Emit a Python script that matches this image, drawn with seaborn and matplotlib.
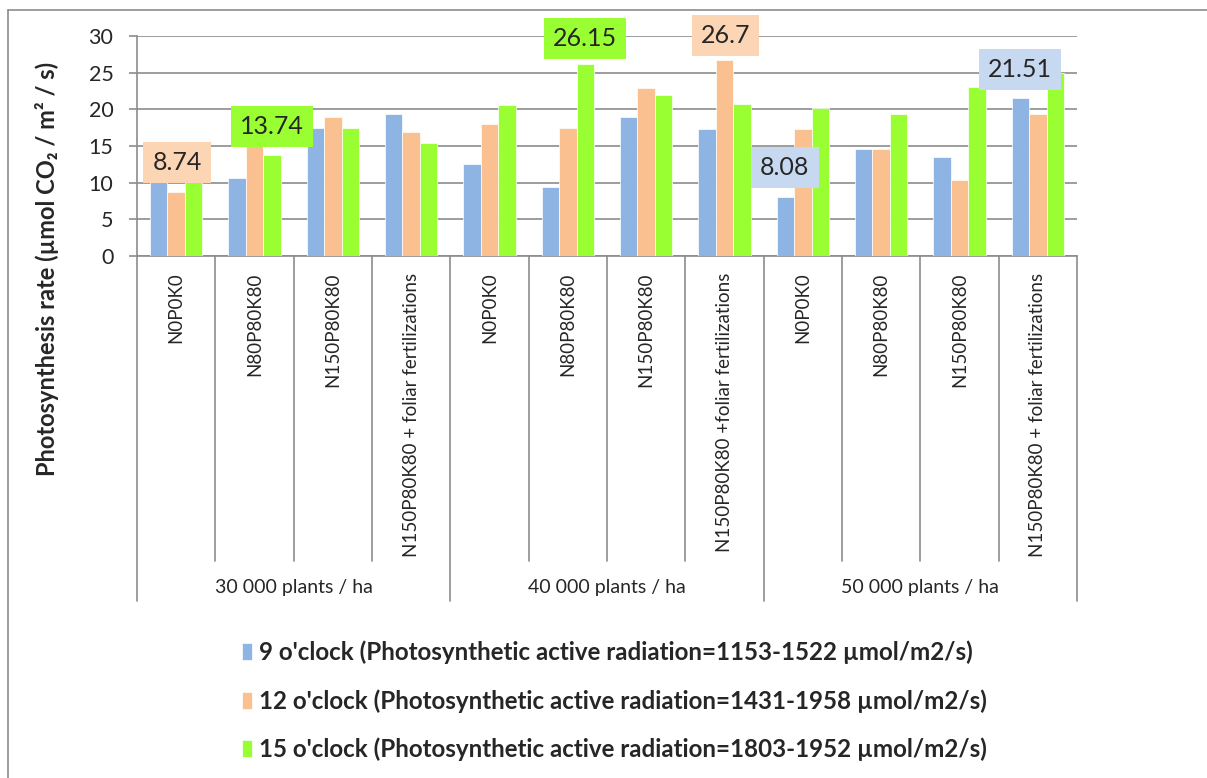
import numpy as np
import pandas as pd
import matplotlib
matplotlib.use("Agg")
import matplotlib.pyplot as plt
import matplotlib.transforms as mtransforms
from matplotlib.lines import Line2D
import seaborn as sns

# ---------------- data ----------------
categories = ["N0P0K0", "N80P80K80", "N150P80K80", "N150P80K80 + foliar fertilizations",
              "N0P0K0", "N80P80K80", "N150P80K80", "N150P80K80 +foliar fertilizations",
              "N0P0K0", "N80P80K80", "N150P80K80", "N150P80K80 + foliar fertilizations"]
groups = ["30 000 plants / ha", "40 000 plants / ha", "50 000 plants / ha"]
series_names = ["9 o'clock (Photosynthetic active radiation=1153-1522 µmol/m2/s)",
                "12 o'clock (Photosynthetic active radiation=1431-1958 µmol/m2/s)",
                "15 o'clock (Photosynthetic active radiation=1803-1952 µmol/m2/s)"]
t9 = [10.4, 10.7, 17.4, 19.4, 12.5, 9.4, 18.9, 17.3, 8.08, 14.6, 13.5, 21.51]
t12 = [8.74, 15.3, 18.95, 16.95, 17.95, 17.4, 22.9, 26.7, 17.3, 14.55, 10.3, 19.4]
t15 = [15.4, 13.74, 17.5, 15.4, 20.6, 26.15, 22.0, 20.7, 20.2, 19.4, 23.05, 24.9]
y_ticks = [0, 5, 10, 15, 20, 25, 30]

# labelled points: (series index, category index)
labelled = [(1, 0), (2, 1), (2, 5), (1, 7), (0, 8), (0, 11)]
# label box placement (x in category units, y in data units)
label_xy = [(0.01, 12.7), (1.22, 17.7), (5.22, 29.7), (7.01, 30.1), (7.77, 12.0), (10.77, 25.4)]

colors = ["#8EB4E3", "#FAC090", "#99FF33"]
box_colors = ["#C6D9F1", "#FCD5B5", "#99FF33"]

# ---------------- style ----------------
sns.set_theme(style="white")
plt.rcParams["font.family"] = ["Lato", "DejaVu Sans"]

W, H = 1207, 778
fig = plt.figure(figsize=(W / 100, H / 100), dpi=100)
ax = fig.add_axes([137 / W, 1 - 256 / H, 940 / W, 220 / H])

series_vals = [t9, t12, t15]
df = pd.DataFrame({
    "pos": np.tile(np.arange(len(categories)), 3),
    "value": t9 + t12 + t15,
    "series": np.repeat(series_names, len(categories)),
})

sns.barplot(data=df, x="pos", y="value", hue="series", hue_order=series_names,
            palette=colors, width=0.67, gap=0, saturation=1, errorbar=None,
            edgecolor="white", linewidth=0.5, ax=ax, zorder=3)

ax.set_ylim(0, 30)
ax.set_xlim(-0.5, len(categories) - 0.5)
ax.set_yticks(y_ticks)
ax.set_yticklabels([str(t) for t in y_ticks], fontsize=15.5)
ax.grid(axis="y", color="#8c8c8c", linewidth=1.2, zorder=0)
ax.grid(axis="x", visible=False)
ax.set_axisbelow(True)
for s in ["top", "right"]:
    ax.spines[s].set_visible(False)
for s in ["left", "bottom"]:
    ax.spines[s].set_color("#8c8c8c")
    ax.spines[s].set_linewidth(1.2)
ax.tick_params(axis="y", which="major", left=True, length=6, width=1.2, color="#8c8c8c", pad=11)
ax.set_xticks(np.arange(len(categories)))
ax.set_xticklabels(categories, rotation=90, fontsize=13.5, va="top", ha="center")
ax.tick_params(axis="x", length=0, pad=12)
ax.set_xlabel("")
ax.set_ylabel("")

# category separators and group labels
trans = mtransforms.blended_transform_factory(ax.transData, ax.transAxes)
n = len(categories)
for i in range(n + 1):
    xb = i - 0.5
    ybot = -(601 - 256) / 220 if i % 4 == 0 else -(561 - 256) / 220
    ax.add_line(Line2D([xb, xb], [0, ybot], transform=trans, color="#8c8c8c",
                       linewidth=1.2, clip_on=False))
for g, name in enumerate(groups):
    ax.text(g * 4 + 1.5, -(588 - 256) / 220, name, transform=trans, ha="center",
            va="center", fontsize=14)

# y label
ax.text(47 / W, 1 - 269 / H, "Photosynthesis rate (µmol CO₂ / m² / s)", transform=fig.transFigure,
        rotation=90, ha="center", va="center", fontsize=17, fontweight="bold")

# data labels
for (si, ci), (lx, ly) in zip(labelled, label_xy):
    v = series_vals[si][ci]
    ax.text(lx, ly, f"{v:g}", ha="center", va="center", fontsize=18, zorder=6,
            bbox=dict(boxstyle="square,pad=0.36", facecolor=box_colors[si], edgecolor="none"),
            clip_on=False)

# legend
handles, labels = ax.get_legend_handles_labels()
if ax.get_legend() is not None:
    ax.get_legend().remove()
fig.legend(handles, labels, loc="upper left", bbox_to_anchor=(232 / W, 1 - 631 / H),
           frameon=False, prop={"weight": "bold", "size": 17.4}, handlelength=0.42,
           handleheight=0.7, handletextpad=0.3, labelspacing=1.02, borderaxespad=0)

# chart area border (top and left)
fig.add_artist(Line2D([8 / W, 1], [1 - 10 / H, 1 - 10 / H], transform=fig.transFigure,
                      color="#8c8c8c", linewidth=1.2))
fig.add_artist(Line2D([8 / W, 8 / W], [0, 1 - 10 / H], transform=fig.transFigure,
                      color="#8c8c8c", linewidth=1.2))

fig.savefig("out.png", dpi=100)
